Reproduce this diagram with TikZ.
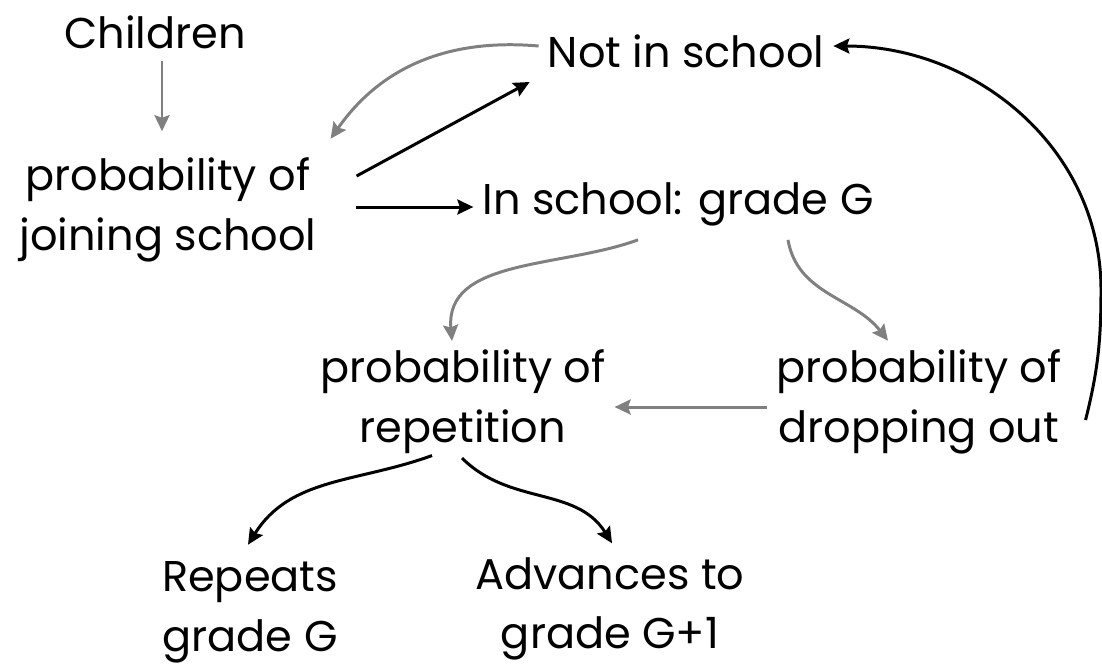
\documentclass[tikz,border=0pt]{standalone}
\usepackage{fontspec}
\setmainfont{Poppins}
\usetikzlibrary{arrows.meta, positioning}

\begin{document}
\begin{tikzpicture}[x=0.02cm, y=-0.02cm,
  lbl/.style={align=center, font=\fontsize{24.5}{34}\selectfont, inner sep=5pt},
  blk/.style={-{Stealth[length=0.32cm,width=0.3cm,inset=0.05cm]}, line width=1.7pt, black},
  gry/.style={blk, draw=black!50, color=black!50}]
  \useasboundingbox (0,0) rectangle (1102,664);
  \node (C) [lbl] at (155,32) {Children};
  \node (N) [lbl] at (686,51) {Not in school};
  \node (J) [lbl] at (168,210) {probability of\\joining school};
  \node (S) [lbl] at (678,204) {In school: grade G};
  \node (R) [lbl] at (463,402) {probability of\\repetition};
  \node (D) [lbl] at (919,402) {probability of\\dropping out};
  \node (RG) [lbl] at (250,612) {Repeats\\grade G};
  \node (AG) [lbl] at (610,609) {Advances to\\grade G+1};
  % grey links
  \draw[gry] ([xshift=0.14cm,yshift=-0.06cm]C.south) -- ([xshift=0.14cm,yshift=0.35cm]C.south |- J.north);
  \draw[gry] ([yshift=0.1cm]N.west) to[out=175, in=55] ([xshift=0.1cm,yshift=0.2cm]J.north east);
  \draw[gry] ([xshift=-0.8cm,yshift=-0.1cm]S.south) to[out=200, in=95] ([xshift=-0.22cm,yshift=0cm]R.north);
  \draw[gry] ([xshift=2.2cm,yshift=-0.1cm]S.south) to[out=-80, in=128] ([xshift=-0.62cm,yshift=0cm]D.north);
  \draw[gry] ([yshift=-0.1cm]D.west) -- ([yshift=-0.1cm]R.east);
  % black links
  \draw[blk] ([xshift=0.62cm,yshift=0.68cm]J.east) -- ([xshift=-0.18cm,yshift=-0.62cm]N.west);
  \draw[blk] ([xshift=0.6cm,yshift=-0.06cm]J.east |- S.west) -- ([yshift=-0.06cm]S.west);
  \draw[blk] ([xshift=-0.62cm,yshift=0.15cm]R.south) to[out=200, in=58] ([xshift=-0.04cm,yshift=0.15cm]RG.north);
  \draw[blk] ([xshift=-0.02cm,yshift=0.1cm]R.south) to[out=-45, in=122] ([xshift=0.04cm,yshift=0.1cm]AG.north);
  \draw[blk] ([xshift=0.3cm,yshift=-0.36cm]D.east) to[out=76, in=-90] (1101,290) to[out=90, in=0] ([yshift=0.1cm]N.east);
\end{tikzpicture}
\end{document}
